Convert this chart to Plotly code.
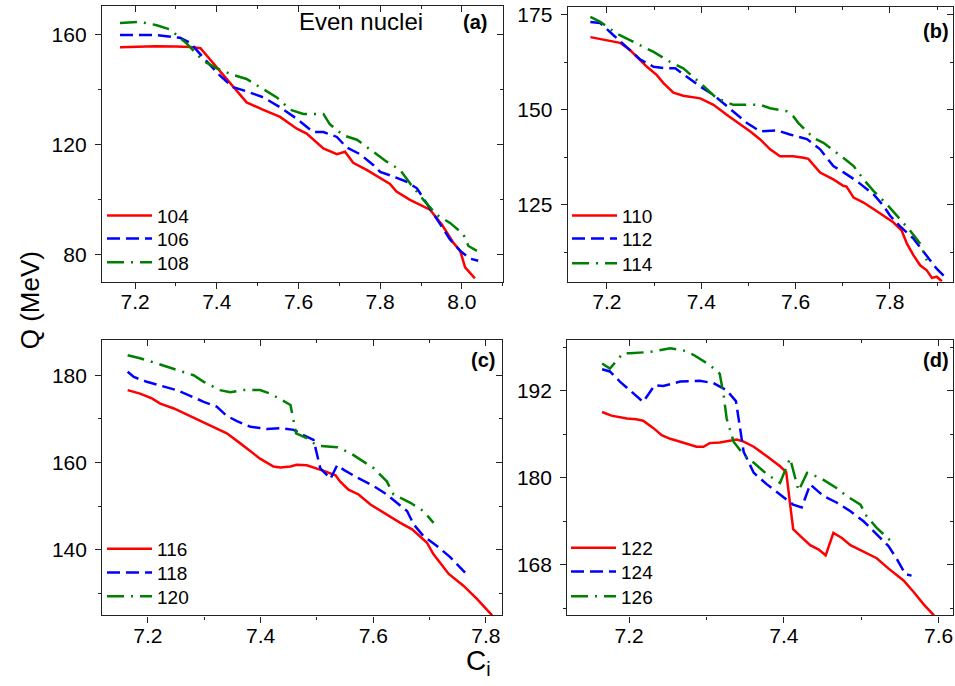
import plotly.graph_objects as go

W, H = 955, 686

# ---------------- data ----------------
a104_x = [7.163,7.20,7.25,7.30,7.335,7.36,7.40,7.433,7.473,7.514,7.555,7.596,7.62,7.661,7.694,7.714,7.734,7.767,7.808,7.824,7.84,7.873,7.922,7.951,7.979,7.996,8.008,8.032]
a104_y = [155.4,155.6,155.7,155.6,155.5,155,148,142.6,135.3,132.6,130,125.7,123.9,118.5,116.4,117.3,113.3,110.7,107,105.6,102.8,99.8,96.2,90.8,84.2,81.2,75.2,71.2]
a106_x = [7.163,7.253,7.31,7.335,7.367,7.408,7.44,7.473,7.514,7.555,7.596,7.636,7.661,7.694,7.718,7.751,7.783,7.80,7.832,7.865,7.89,7.906,7.922,7.947,7.971,7.996,8.02,8.04]
a106_y = [159.8,159.8,158.8,157,151.6,145,140.8,139.3,137.1,133.5,129.3,124.5,124.5,122.7,118.9,116.4,112.5,110,108.3,106.4,104,100.4,96.8,90.8,85.4,81.2,78.4,77.6]
a108_x = [7.163,7.212,7.253,7.286,7.327,7.367,7.40,7.44,7.473,7.514,7.547,7.58,7.612,7.661,7.677,7.71,7.743,7.783,7.816,7.849,7.873,7.906,7.938,7.971,8.004,8.016,8.037]
a108_y = [164.2,164.6,163.4,161.8,156.6,150.4,147.7,145.3,143.8,140.2,137.1,132.6,131.1,131.1,127.3,123.3,121.7,117.3,113.7,110.7,105.8,99.8,94.4,91.4,87.2,83,81.2]

b110_x = [7.165,7.193,7.228,7.249,7.271,7.285,7.306,7.32,7.341,7.362,7.398,7.426,7.454,7.482,7.504,7.525,7.546,7.567,7.595,7.617,7.627,7.652,7.68,7.701,7.708,7.723,7.744,7.765,7.786,7.807,7.825,7.836,7.85,7.864,7.878,7.889,7.899,7.91]
b110_y = [169.1,168.4,167.6,165.7,163.1,161.3,159.1,157,154.5,153.7,153,151.3,148.7,146.3,144.3,142.2,139.6,137.8,137.8,137.4,137.1,133.5,131.7,130,129.8,126.9,125.6,123.9,122.2,120.4,118.2,114.8,111.7,109.1,107.8,105.8,106.1,104.9]
b112_x = [7.165,7.186,7.214,7.242,7.271,7.299,7.327,7.345,7.369,7.398,7.426,7.461,7.497,7.525,7.56,7.588,7.624,7.652,7.68,7.701,7.729,7.765,7.786,7.80,7.821,7.85,7.878,7.899,7.92]
b112_y = [173.1,172.8,169.6,166.5,163.2,161.3,160.9,160.9,158.7,156.1,153.9,150.2,146.5,144.3,144.6,143.5,142.3,139.6,135.2,133.6,131.3,127.8,124.8,122.2,119.4,116.1,111.5,108.2,105.6]
b114_x = [7.165,7.186,7.221,7.256,7.299,7.334,7.362,7.398,7.433,7.468,7.49,7.525,7.546,7.581,7.595,7.606,7.638,7.659,7.701,7.723,7.744,7.765,7.793,7.814,7.843,7.864,7.878]
b114_y = [174.4,173.1,170,167.8,165.2,162.6,160.9,157,153,151.3,151.3,151.3,150.4,149.6,148.3,146.5,142.6,141.3,137.4,135.2,131.7,128.7,125.2,122.2,118.2,114.8,110.4]

c116_x = [7.164,7.186,7.207,7.222,7.246,7.269,7.293,7.317,7.34,7.364,7.382,7.399,7.423,7.435,7.453,7.464,7.482,7.50,7.512,7.533,7.541,7.556,7.574,7.595,7.612,7.63,7.648,7.669,7.683,7.695,7.707,7.719,7.734,7.76,7.784,7.811]
c116_y = [176.6,175.8,174.7,173.5,172.4,171,169.5,168,166.7,164.4,162.5,160.9,159.1,158.9,159.1,159.5,159.4,158.7,158.1,157.1,155.7,153.8,152.7,150.4,149,147.7,146.2,144.7,143.2,141.7,139,137.1,134.5,131.8,128.8,125]
c118_x = [7.164,7.175,7.198,7.222,7.251,7.275,7.299,7.322,7.34,7.358,7.382,7.399,7.411,7.435,7.459,7.476,7.494,7.506,7.524,7.536,7.547,7.571,7.601,7.624,7.642,7.66,7.672,7.689,7.713,7.737,7.763]
c118_y = [180.8,179.6,178.5,177.7,176.6,175.3,173.9,172.8,170.7,169.5,168.2,167.9,167.7,167.9,167.5,166.3,165.2,158.7,156.3,159.4,158.4,156.6,154.6,152.7,150.8,148.9,145.8,143.2,140.9,138.3,134.8]
c120_x = [7.164,7.186,7.216,7.246,7.281,7.299,7.328,7.346,7.37,7.399,7.417,7.438,7.453,7.463,7.482,7.50,7.536,7.559,7.583,7.601,7.624,7.636,7.666,7.689,7.707]
c120_y = [184.6,183.9,182.7,181.5,180,178.5,176.6,176.1,176.6,176.6,175.8,174.3,173.2,166.7,165.6,163.9,163.5,162.2,160.3,158.7,155.7,152.7,150.8,148.9,146.2]

d122_x = [7.165,7.177,7.197,7.209,7.218,7.231,7.242,7.253,7.266,7.279,7.287,7.296,7.304,7.317,7.326,7.339,7.348,7.361,7.378,7.395,7.403,7.412,7.421,7.434,7.445,7.454,7.464,7.475,7.486,7.503,7.52,7.535,7.555,7.568,7.581,7.594]
d122_y = [189.1,188.6,188.2,188.1,187.9,186.9,185.9,185.4,185,184.6,184.3,184.3,184.8,184.9,185.1,185.3,185,184.3,183,181.6,180.8,172.9,172,170.7,170.1,169.3,172.4,171.7,170.7,169.8,168.9,167.5,165.8,164.2,162.5,161]
d124_x = [7.165,7.175,7.188,7.201,7.218,7.233,7.244,7.266,7.291,7.309,7.326,7.338,7.348,7.361,7.378,7.395,7.412,7.423,7.434,7.451,7.468,7.486,7.503,7.52,7.535,7.546,7.557,7.565]
d124_y = [195,194.7,193.3,192.1,190.5,192.8,192.7,193.3,193.4,193.1,192.1,190.6,183.6,180.7,179.1,177.7,176.3,175.9,179.1,177.5,176.6,175.4,174,172.2,170.6,168.8,166.7,166.5]
d126_x = [7.165,7.175,7.192,7.201,7.227,7.253,7.27,7.283,7.304,7.317,7.322,7.326,7.335,7.348,7.361,7.378,7.395,7.408,7.419,7.43,7.447,7.468,7.481,7.499,7.507,7.52,7.531,7.54]
d126_y = [195.8,195.1,197.2,197.2,197.4,197.9,197.6,197,195.6,194.4,191.5,188.2,185,183.2,182.1,180.5,179.3,182.7,178.2,180.7,180,178.6,177.5,176.3,174.7,173.1,172,171.1]

panel_labels = ["(a)", "(b)", "(c)", "(d)"]
series_names = [["104", "106", "108"], ["110", "112", "114"], ["116", "118", "120"], ["122", "124", "126"]]

# ---------------- styles ----------------
FONT = "Arial, Liberation Sans, sans-serif"
RED, BLUE, GREEN = "#FF0000", "#0000FF", "#008000"
LW = 2.5
styles = [dict(color=RED, width=LW, dash="solid"),
          dict(color=BLUE, width=LW, dash="13px,6px"),
          dict(color=GREEN, width=LW, dash="17px,7px,2px,7px")]

panels = [
    ([(a104_x, a104_y), (a106_x, a106_y), (a108_x, a108_y)]),
    ([(b110_x, b110_y), (b112_x, b112_y), (b114_x, b114_y)]),
    ([(c116_x, c116_y), (c118_x, c118_y), (c120_x, c120_y)]),
    ([(d122_x, d122_y), (d124_x, d124_y), (d126_x, d126_y)]),
]

# pixel geometry of each panel: (left, right, top, bottom)
geom = [(102, 502.7, 1.7, 279.3), (567.7, 952.7, 2.7, 279.3),
        (102.3, 501.7, 338.3, 615), (567.3, 953.3, 338.3, 615)]
xranges = [[7.119, 8.10], [7.117, 7.933], [7.119, 7.828], [7.12, 7.619]]
yranges = [[70.0, 170.5], [104.8, 177.1], [125, 188], [161, 199]]
ydtick = [40, 25, 20, 12]
ytick0 = [80, 125, 140, 168]
legend_x = [102, 567, 102, 566]
legend_rows = [[213, 236, 260], [213, 236, 261], [548, 572, 596], [547, 571, 596]]
label_pos = [(489, 18), (951, 27), (497, 358), (951, 358)]

fig = go.Figure()
layout = dict(width=W, height=H, margin=dict(l=0, r=0, t=0, b=0),
              paper_bgcolor="white", plot_bgcolor="white", showlegend=True,
              font=dict(family=FONT, color="black"))
annotations = []
AXCOL = "#222"
TF = dict(family=FONT, size=21, color="black")
leg_idx = 0
for i in range(4):
    n = i + 1
    xs = "" if n == 1 else str(n)
    tx = str(n + 4)
    l, r, t, b = geom[i]
    xdom = [l / W, r / W]
    ydom = [1 - b / H, 1 - t / H]
    for k, (sx, sy) in enumerate(panels[i]):
        leg_idx += 1
        leg = "legend" if leg_idx == 1 else f"legend{leg_idx}"
        fig.add_trace(go.Scatter(x=sx, y=sy, mode="lines", name=series_names[i][k],
                                 line=styles[k], xaxis=f"x{xs}", yaxis=f"y{xs}",
                                 legend=leg, showlegend=True))
        layout[leg] = dict(x=legend_x[i] / W, y=1 - legend_rows[i][k] / H,
                           xanchor="left", yanchor="middle",
                           bgcolor="rgba(0,0,0,0)", borderwidth=0,
                           font=dict(family=FONT, size=19, color="black"),
                           itemwidth=45)
    # invisible carriers so the mirrored (top/right) axes get drawn
    sx, sy = panels[i][0]
    fig.add_trace(go.Scatter(x=sx, y=sy, mode="lines", line=dict(width=0, color="rgba(0,0,0,0)"),
                             xaxis=f"x{tx}", yaxis=f"y{xs}", showlegend=False, hoverinfo="skip"))
    fig.add_trace(go.Scatter(x=sx, y=sy, mode="lines", line=dict(width=0, color="rgba(0,0,0,0)"),
                             xaxis=f"x{xs}", yaxis=f"y{tx}", showlegend=False, hoverinfo="skip"))
    common = dict(showgrid=False, zeroline=False, showline=True, linecolor=AXCOL,
                  linewidth=1.3, tickcolor=AXCOL, tickwidth=1.2, tickfont=TF,
                  ticklabeloverflow="allow")
    layout[f"xaxis{xs}"] = dict(domain=xdom, range=xranges[i], anchor=f"y{xs}",
                                ticks="outside", ticklen=6, tick0=7.2, dtick=0.2,
                                tickformat=".1f", ticklabelstandoff=-5,
                                minor=dict(ticks="outside", ticklen=3, dtick=0.1, tick0=7.2,
                                           tickcolor=AXCOL, tickwidth=1.2),
                                **common)
    layout[f"yaxis{xs}"] = dict(domain=ydom, range=yranges[i], anchor=f"x{xs}",
                                ticks="outside", ticklen=6, tick0=ytick0[i], dtick=ydtick[i],
                                ticklabelstandoff=4,
                                minor=dict(ticks="outside", ticklen=3, dtick=ydtick[i] / 2,
                                           tick0=ytick0[i], tickcolor=AXCOL, tickwidth=1.2),
                                **common)
    # mirrored inside ticks on top / right
    layout[f"xaxis{tx}"] = dict(domain=xdom, range=xranges[i], overlaying=f"x{xs}",
                                anchor=f"y{xs}", side="top", showticklabels=False,
                                ticks="inside", ticklen=6, tick0=7.2, dtick=0.2,
                                minor=dict(ticks="inside", ticklen=3, dtick=0.1, tick0=7.2,
                                           tickcolor=AXCOL, tickwidth=1.2),
                                showgrid=False, zeroline=False, showline=True,
                                linecolor=AXCOL, linewidth=1.3, tickcolor=AXCOL, tickwidth=1.2)
    layout[f"yaxis{tx}"] = dict(domain=ydom, range=yranges[i], overlaying=f"y{xs}",
                                anchor=f"x{xs}", side="right", showticklabels=False,
                                ticks="inside", ticklen=6, tick0=ytick0[i], dtick=ydtick[i],
                                minor=dict(ticks="inside", ticklen=3, dtick=ydtick[i] / 2,
                                           tick0=ytick0[i], tickcolor=AXCOL, tickwidth=1.2),
                                showgrid=False, zeroline=False, showline=True,
                                linecolor=AXCOL, linewidth=1.3, tickcolor=AXCOL, tickwidth=1.2)
    px_, py_ = label_pos[i]
    annotations.append(dict(text=f"<b>{panel_labels[i]}</b>", x=px_ / W, y=1 - py_ / H,
                            xref="paper", yref="paper", xanchor="right", yanchor="middle",
                            showarrow=False, font=dict(family=FONT, size=20, color="black")))

annotations.append(dict(text="Even nuclei", x=361 / W, y=1 - 18 / H, xref="paper", yref="paper",
                        xanchor="center", yanchor="middle", showarrow=False,
                        font=dict(family=FONT, size=24, color="black")))
annotations.append(dict(text="Q (MeV)", x=30 / W, y=1 - 298 / H, xref="paper", yref="paper",
                        xanchor="center", yanchor="middle", textangle=-90, showarrow=False,
                        font=dict(family=FONT, size=26, color="black")))
annotations.append(dict(text="C<sub>i</sub>", x=478 / W, y=1 - 662 / H, xref="paper", yref="paper",
                        xanchor="center", yanchor="middle", showarrow=False,
                        font=dict(family=FONT, size=28, color="black")))
layout["annotations"] = annotations
fig.update_layout(**layout)
fig.write_html("out.html")
